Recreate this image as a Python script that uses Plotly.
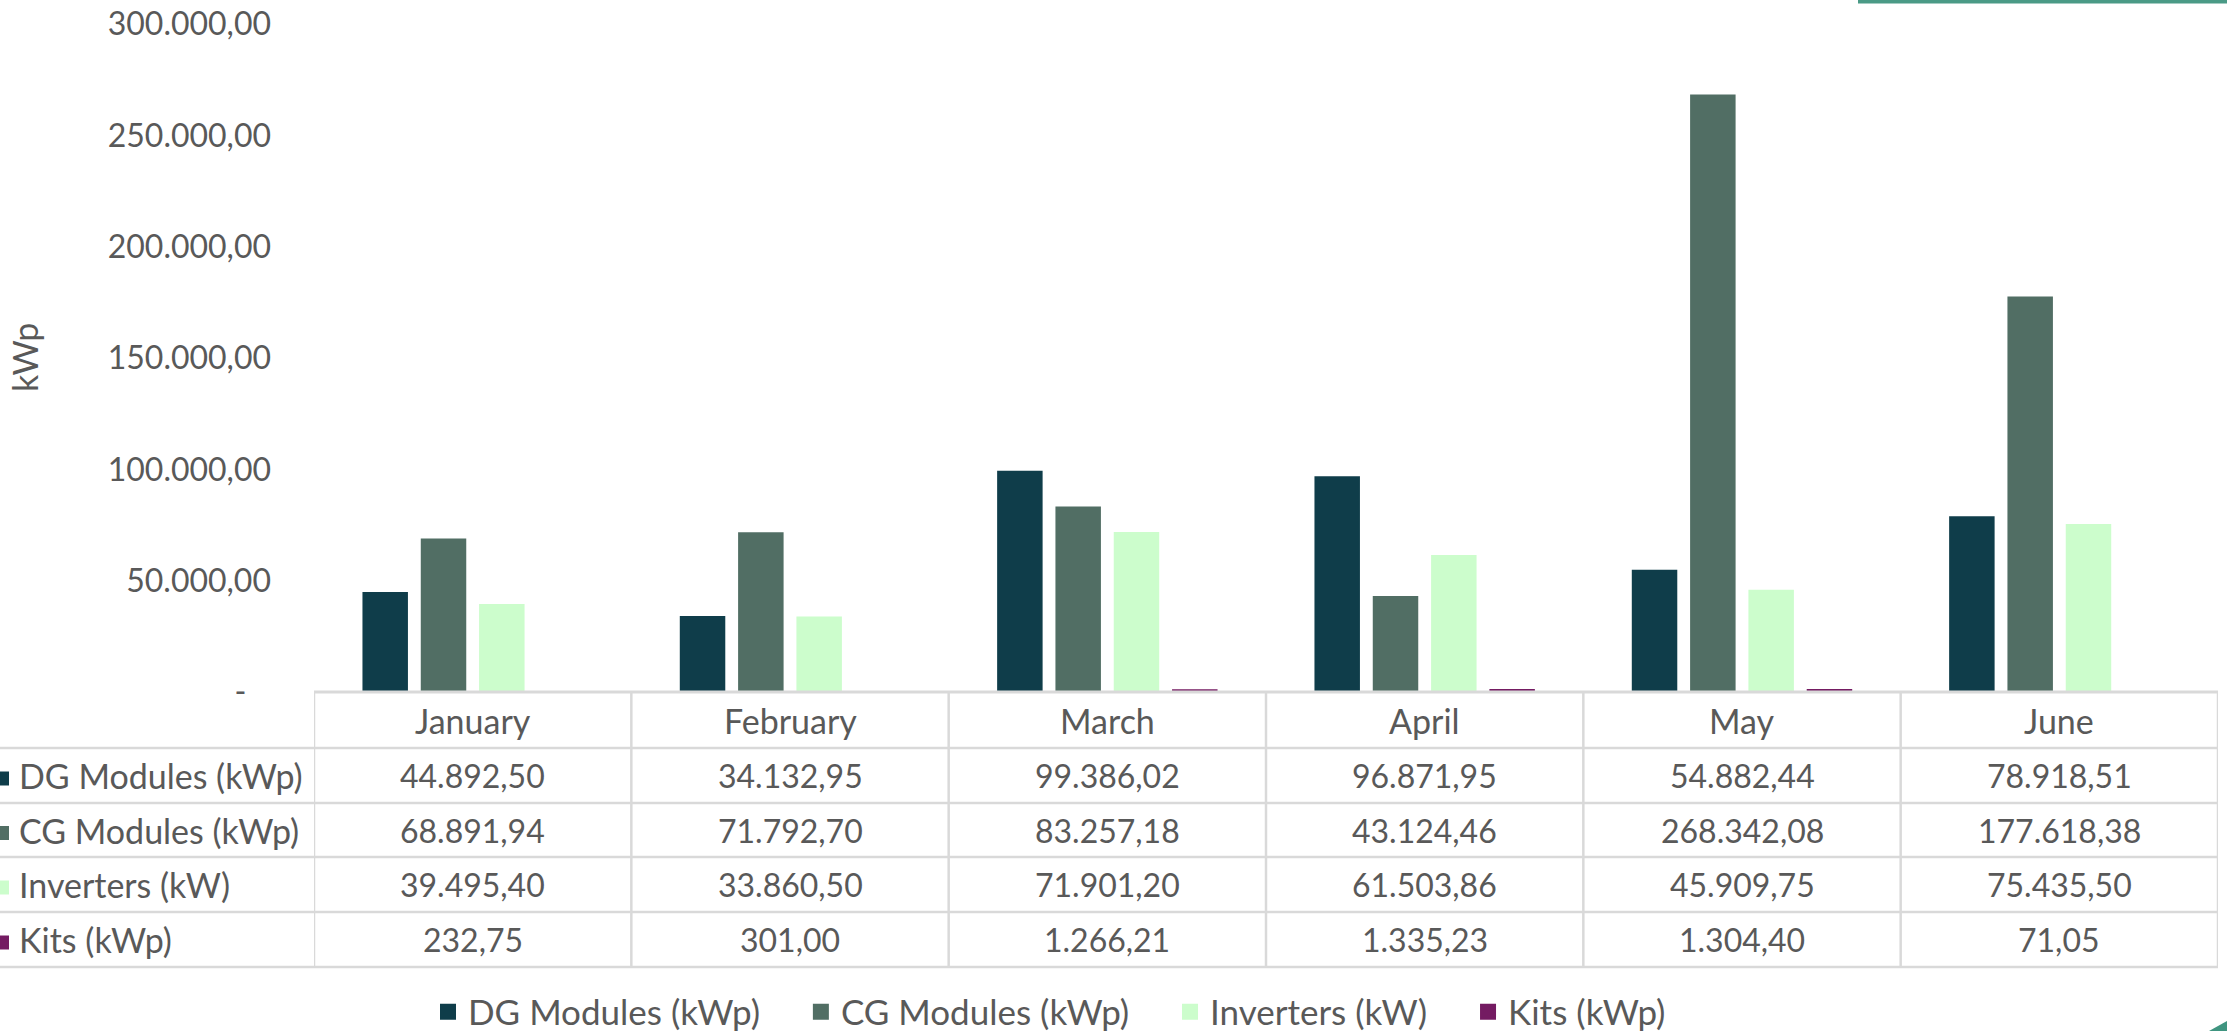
import plotly.graph_objects as go

# Monthly shipped capacity by product line
months = ["January", "February", "March", "April", "May", "June"]
dg_modules = [44892.50, 34132.95, 99386.02, 96871.95, 54882.44, 78918.51]
cg_modules = [68891.94, 71792.70, 83257.18, 43124.46, 268342.08, 177618.38]
inverters = [39495.40, 33860.50, 71901.20, 61503.86, 45909.75, 75435.50]
kits = [232.75, 301.00, 1266.21, 1335.23, 1304.40, 71.05]

series_names = ["DG Modules (kWp)", "CG Modules (kWp)", "Inverters (kW)", "Kits (kWp)"]
series_values = [dg_modules, cg_modules, inverters, kits]
series_colors = ["#0f3d4a", "#516e64", "#ccfdcc", "#741b62"]

y_ticks = [0, 50000, 100000, 150000, 200000, 250000, 300000]

# Page geometry (pixels)
W, H = 2227, 1031
ML, MR, MT, MB = 314, 9, 24, 339
PW, PH = W - ML - MR, H - MT - MB
FONT = "Lato"
TEXT = "#595959"
GRID = "#d9d9d9"
FS_NUM = 32   # numbers
FS_TXT = 34   # words
FS_LEG = 35   # legend


def br(v):
    """Format a number with '.' thousands and ',' decimals."""
    s = f"{v:,.2f}"
    return s.replace(",", "#").replace(".", ",").replace("#", ".")


def px_x(px):
    return (px - ML) / PW


def px_y(py):
    return (H - MB - py) / PH


fig = go.Figure()
for name, vals, col in zip(series_names, series_values, series_colors):
    fig.add_trace(go.Bar(
        name=name, x=months, y=vals, legendgroup=name, showlegend=False,
        marker=dict(color=col, line=dict(width=0)),
        hovertemplate=name + ": %{y:,.2f}<extra></extra>",
    ))
# legend entries with larger square keys
for name, col in zip(series_names, series_colors):
    fig.add_trace(go.Scatter(
        name=name + "\u00a0" * 4, x=[None], y=[None], mode="markers",
        legendgroup=name, hoverinfo="skip",
        marker=dict(symbol="square", size=16, color=col),
    ))

ticktext = ["-\u00a0\u00a0\u00a0"] + [br(v) for v in y_ticks[1:]]

shapes = []
annotations = []

# Data table beneath the plot
row_edges = [692, 748, 803, 857, 912, 967]
header_y = (row_edges[0] + row_edges[1]) / 2
# table top border (header only spans data columns)
shapes.append(dict(type="line", xref="paper", yref="paper",
                   x0=0, x1=1, y0=px_y(row_edges[0]), y1=px_y(row_edges[0]),
                   line=dict(color=GRID, width=3)))
for py in row_edges[1:]:
    shapes.append(dict(type="line", xref="paper", yref="paper",
                       x0=px_x(0), x1=1, y0=px_y(py), y1=px_y(py),
                       line=dict(color=GRID, width=2.5)))
for i in range(len(months) + 1):
    shapes.append(dict(type="line", xref="x", yref="paper",
                       x0=i - 0.5, x1=i - 0.5,
                       y0=px_y(row_edges[0]), y1=px_y(row_edges[-1]),
                       line=dict(color=GRID, width=2.5)))

for m in months:
    annotations.append(dict(x=m, y=px_y(header_y), xref="x", yref="paper",
                            xanchor="center", yanchor="middle",
                            text=m, showarrow=False,
                            font=dict(family=FONT, size=FS_TXT, color=TEXT)))

for r, (name, vals, col) in enumerate(zip(series_names, series_values, series_colors)):
    yc = (row_edges[r + 1] + row_edges[r + 2]) / 2
    # colour key at the start of each row
    shapes.append(dict(type="rect", xref="paper", yref="paper",
                       x0=px_x(0), x1=px_x(9), y0=px_y(yc - 4), y1=px_y(yc + 10),
                       fillcolor=col, line=dict(width=0)))
    annotations.append(dict(x=px_x(17), y=px_y(yc), xref="paper", yref="paper",
                            xanchor="left", yanchor="middle",
                            text=name, showarrow=False,
                            font=dict(family=FONT, size=FS_TXT, color=TEXT)))
    for m, v in zip(months, vals):
        annotations.append(dict(x=m, y=px_y(yc), xref="x", yref="paper",
                                xanchor="center", yanchor="middle",
                                text=br(v), showarrow=False,
                                font=dict(family=FONT, size=FS_NUM, color=TEXT)))

# axis title
annotations.append(dict(x=px_x(24), y=0.5, xref="paper", yref="paper",
                        xanchor="center", yanchor="middle",
                        text="kWp", textangle=-90, showarrow=False,
                        font=dict(family=FONT, size=FS_TXT, color=TEXT)))

# slide accents
shapes.append(dict(type="rect", xref="paper", yref="paper",
                   x0=px_x(1858), x1=px_x(W), y0=px_y(0), y1=px_y(3.5),
                   fillcolor="#4a9a86", line=dict(width=0)))
shapes.append(dict(type="path", xref="paper", yref="paper",
                   path=f"M {px_x(2209)},{px_y(H)} L {px_x(W)},{px_y(1021)} L {px_x(W)},{px_y(H)} Z",
                   fillcolor="#3f9580", line=dict(width=0)))

fig.update_layout(
    width=W, height=H,
    margin=dict(l=ML, r=MR, t=MT, b=MB, autoexpand=False),
    paper_bgcolor="white", plot_bgcolor="white",
    barmode="group", bargap=0.265, bargroupgap=0.22,
    font=dict(family=FONT, size=FS_TXT, color=TEXT),
    xaxis=dict(showticklabels=False, showgrid=False, zeroline=False,
               showline=False, ticks="", range=[-0.5, 5.5]),
    yaxis=dict(range=[0, 300000], tickvals=y_ticks, ticktext=ticktext,
               showgrid=False, zeroline=False, showline=False, ticks="",
               ticklabelstandoff=42,
               tickfont=dict(family=FONT, size=FS_NUM, color=TEXT)),
    legend=dict(orientation="h", x=px_x(428), y=px_y(1012), xanchor="left",
                yanchor="middle", font=dict(family=FONT, size=FS_LEG, color=TEXT),
                bgcolor="rgba(0,0,0,0)", tracegroupgap=0, itemsizing="trace"),
    shapes=shapes, annotations=annotations,
)

fig.write_html("out.html")
